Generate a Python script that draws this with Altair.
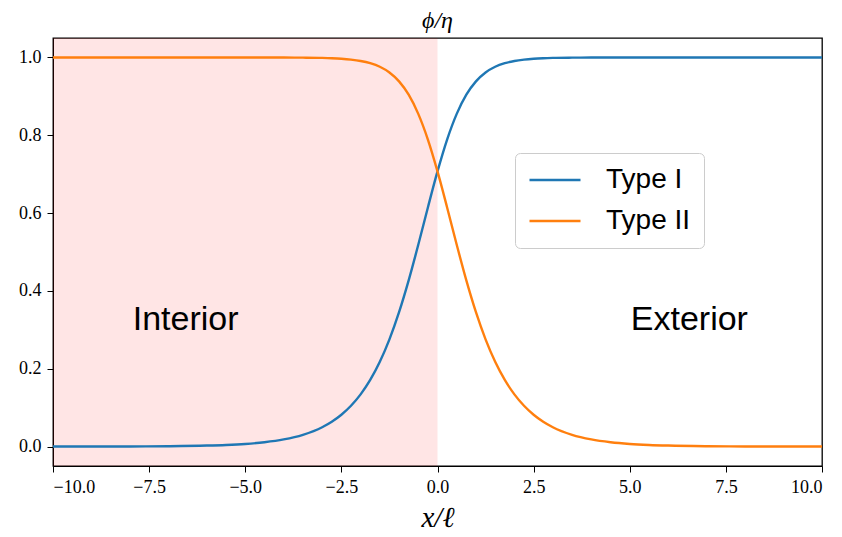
import altair as alt
import pandas as pd

# ---- data ----
x_vals = [-10, -9, -8, -7, -6, -5.5, -5, -4.5, -4, -3.5, -3, -2.75, -2.5, -2.25,
          -2, -1.75, -1.5, -1.25, -1, -0.75, -0.5, -0.25, 0, 0.25, 0.5, 0.75,
          1, 1.25, 1.5, 1.75, 2, 2.25, 2.5, 2.75, 3, 3.5, 4, 4.5, 5, 5.5, 6,
          7, 8, 9, 10]
type_i = [0.0, 0.0001, 0.0003, 0.0009, 0.0025, 0.0041, 0.0067, 0.0111, 0.0183,
          0.0302, 0.0497, 0.0638, 0.0818, 0.1048, 0.1341, 0.1712, 0.2178,
          0.2755, 0.3453, 0.4271, 0.5186, 0.6145, 0.7071, 0.7890, 0.8550,
          0.9042, 0.9385, 0.9613, 0.9760, 0.9852, 0.9910, 0.9945, 0.9967,
          0.9980, 0.9988, 0.9995, 0.9998, 0.9999, 1.0, 1.0, 1.0, 1.0, 1.0,
          1.0, 1.0]
type_ii = [1.0, 1.0, 1.0, 1.0, 1.0, 1.0, 1.0, 0.9999, 0.9998, 0.9995, 0.9988,
           0.9980, 0.9967, 0.9945, 0.9910, 0.9852, 0.9760, 0.9613, 0.9385,
           0.9042, 0.8550, 0.7890, 0.7071, 0.6145, 0.5186, 0.4271, 0.3453,
           0.2755, 0.2178, 0.1712, 0.1341, 0.1048, 0.0818, 0.0638, 0.0497,
           0.0302, 0.0183, 0.0111, 0.0067, 0.0041, 0.0025, 0.0009, 0.0003,
           0.0001, 0.0]
series_names = ["Type I", "Type II"]
series_colors = ["#1f77b4", "#ff7f0e"]

region_start = [-10.0]
region_end = [0.0]

label_texts = ["Interior", "Exterior"]
label_x = [-6.55, 6.55]
label_y = [0.3, 0.3]

x_ticks = [-10.0, -7.5, -5.0, -2.5, 0.0, 2.5, 5.0, 7.5, 10.0]
y_ticks = [0.0, 0.2, 0.4, 0.6, 0.8, 1.0]

# ---- tables ----
n = len(x_vals)
lines_df = pd.DataFrame({
    "x": x_vals + x_vals,
    "y": type_i + type_ii,
    "series": [series_names[0]] * n + [series_names[1]] * n,
})
region_df = pd.DataFrame({"x0": region_start, "x1": region_end})
labels_df = pd.DataFrame({"x": label_x, "y": label_y, "text": label_texts})

x_scale = alt.Scale(domain=[-10, 10], nice=False, zero=False)
y_scale = alt.Scale(domain=[-0.05, 1.05], nice=False, zero=False)

serif = "Liberation Serif, DejaVu Serif, serif"
sans = "Liberation Sans, DejaVu Sans, sans-serif"

x_axis = alt.Axis(values=x_ticks, format=".1f", title="x/ℓ",
                  titleFont=serif, titleFontStyle="italic", titleFontWeight="normal",
                  titleFontSize=29, titlePadding=7)
y_axis = alt.Axis(values=y_ticks, format=".1f", title=None)

shade = alt.Chart(region_df).mark_rect(color="red", opacity=0.1).encode(
    x=alt.X("x0:Q", scale=x_scale, axis=x_axis),
    x2="x1:Q",
)

lines = alt.Chart(lines_df).mark_line(strokeWidth=2.4, interpolate="monotone").encode(
    x=alt.X("x:Q", scale=x_scale, axis=x_axis),
    y=alt.Y("y:Q", scale=y_scale, axis=y_axis),
    color=alt.Color("series:N",
                    scale=alt.Scale(domain=series_names, range=series_colors),
                    legend=alt.Legend(
                        title=None, orient="none", legendX=462, legendY=115,
                        symbolType="stroke", symbolSize=2601, symbolStrokeWidth=2.4,
                        labelFont=sans, labelFontSize=28, labelColor="black",
                        labelOffset=24, clipHeight=28, rowPadding=13,
                        padding=13, fillColor="white", strokeColor="#cccccc",
                        cornerRadius=5)),
)

texts = alt.Chart(labels_df).mark_text(font=sans, fontSize=34, color="black",
                                       align="center", baseline="alphabetic").encode(
    x=alt.X("x:Q", scale=x_scale),
    y=alt.Y("y:Q", scale=y_scale),
    text="text:N",
)

chart = alt.layer(shade, lines, texts).properties(
    width=769, height=428,
    title=alt.TitleParams(text="ϕ/η", font=serif, fontStyle="italic",
                          fontWeight="normal", fontSize=24, offset=5, color="black"),
    autosize=alt.AutoSizeParams(type="none"),
    padding={"left": 45, "top": 30, "right": 12, "bottom": 71},
).configure_view(
    stroke="black", strokeWidth=1.3
).configure_axis(
    grid=False, domainColor="black", tickColor="black", tickSize=6,
    labelFont=serif, labelFontSize=18, labelColor="black", labelPadding=6,
    titleColor="black"
)

chart.save("out.html", embed_options={"renderer": "svg", "actions": False})
